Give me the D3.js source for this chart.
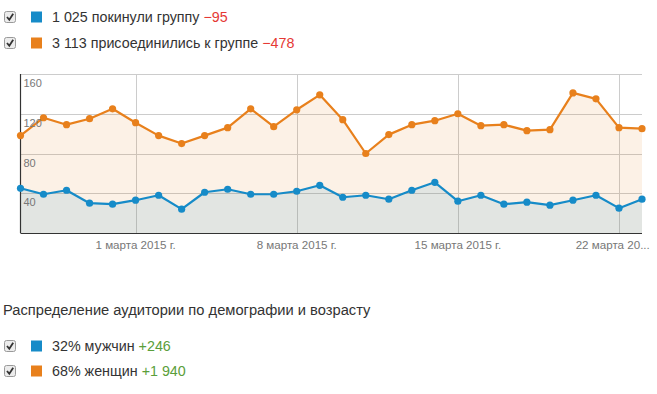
<!DOCTYPE html>
<html>
<head>
<meta charset="utf-8">
<script src="https://cdn.jsdelivr.net/npm/d3@7"></script>
<style>
  body { margin: 0; background: #fff; }
  svg { display: block; font-family: Arial, "Liberation Sans", sans-serif; }
</style>
</head>
<body>
<div id="chart"></div>
<script>
// data: daily counts from 24 Feb to 23 Mar 2015
const startDate = new Date(2015, 1, 24);
const leftValues = [45, 39, 43, 30, 29, 33, 38, 24, 41, 44, 39, 39, 42, 48,
                    36, 38, 34, 43, 51, 32, 38, 29, 31, 28, 33, 38, 25, 34];
const joinedValues = [98, 116, 109, 115, 125, 111, 98, 90, 98, 106, 125, 107, 124, 139,
                      114, 80, 99, 109, 113, 120, 108, 109, 103, 104, 141, 135, 106, 105];
const yTicks = [40, 80, 120, 160];
const xTickDates = [new Date(2015, 2, 1), new Date(2015, 2, 8), new Date(2015, 2, 15), new Date(2015, 2, 22)];

const topLegend = [
    { label: '1 025 покинули группу', delta: '\u221295', color: '#168bc8', deltaColor: '#e53935' },
    { label: '3 113 присоединились к группе', delta: '\u2212478', color: '#e8801c', deltaColor: '#e53935' }
];
const demoTitle = 'Распределение аудитории по демографии и возрасту';
const demoLegend = [
    { label: '32% мужчин', delta: '+246', color: '#168bc8', deltaColor: '#5a9e3a' },
    { label: '68% женщин', delta: '+1 940', color: '#e8801c', deltaColor: '#5a9e3a' }
];

const W = 657, H = 394;
const margin = { top: 74, left: 20.5, right: 15, bottom: 161 };

const dates = leftValues.map((v, i) => d3.timeDay.offset(startDate, i));
const series = [
    { values: joinedValues, color: '#e8801c' },
    { values: leftValues, color: '#168bc8' }
];

const svg = d3.select('#chart')
    .append('svg')
    .attr('width', W)
    .attr('height', H);

const xScale = d3.scaleTime()
    .domain([dates[0], dates[dates.length - 1]])
    .range([margin.left, W - margin.right]);
const yScale = d3.scaleLinear()
    .domain([0, 160])
    .range([H - margin.bottom, margin.top]);

/** gridlines */
const grid = svg.append('g');
grid.selectAll('line.h')
    .data(yTicks)
    .enter()
    .append('line')
    .attr('x1', xScale.range()[0])
    .attr('x2', xScale.range()[1])
    .attr('y1', d => Math.round(yScale(d)) + 0.5)
    .attr('y2', d => Math.round(yScale(d)) + 0.5)
    .style('stroke', '#cccccc');
grid.selectAll('line.v')
    .data(xTickDates)
    .enter()
    .append('line')
    .attr('x1', d => Math.round(xScale(d)) + 0.5)
    .attr('x2', d => Math.round(xScale(d)) + 0.5)
    .attr('y1', yScale(160))
    .attr('y2', yScale(0))
    .style('stroke', '#cccccc');

/** areas + lines */
const area = d3.area()
    .x((d, i) => xScale(dates[i]))
    .y0(yScale(0))
    .y1(d => yScale(d));
const line = d3.line()
    .x((d, i) => xScale(dates[i]))
    .y(d => yScale(d));

series.forEach(s => {
    svg.append('path')
        .attr('d', area(s.values))
        .style('fill', s.color)
        .style('fill-opacity', 0.11);
});

/** axes */
svg.append('line')
    .attr('x1', margin.left).attr('x2', margin.left)
    .attr('y1', yScale(160)).attr('y2', yScale(0))
    .style('stroke', '#333').style('stroke-width', 1.2);
svg.append('line')
    .attr('x1', margin.left).attr('x2', xScale.range()[1])
    .attr('y1', yScale(0) + 0.5).attr('y2', yScale(0) + 0.5)
    .style('stroke', '#333').style('stroke-width', 1.2);

series.forEach(s => {
    svg.append('path')
        .attr('d', line(s.values))
        .style('fill', 'none')
        .style('stroke', s.color)
        .style('stroke-width', 2.2)
        .style('stroke-linejoin', 'round');
    svg.append('g')
        .selectAll('circle')
        .data(s.values)
        .enter()
        .append('circle')
        .attr('cx', (d, i) => xScale(dates[i]))
        .attr('cy', d => yScale(d))
        .attr('r', 3.6)
        .style('fill', s.color);
});

/** y labels sit inside the plot, under their gridline */
svg.append('g')
    .selectAll('text')
    .data(yTicks)
    .enter()
    .append('text')
    .attr('x', margin.left + 3)
    .attr('y', d => yScale(d) + 13)
    .style('font-size', '11px')
    .style('fill', '#777')
    .text(d => d);

/** x labels, the last one gets cut like the original */
const fmtDate = d => `${d.getDate()} ${['января', 'февраля', 'марта'][d.getMonth()]} ${d.getFullYear()} г.`;
svg.append('g')
    .selectAll('text')
    .data(xTickDates)
    .enter()
    .append('text')
    .attr('y', 249)
    .style('font-size', '11.6px')
    .style('fill', '#777')
    .text(fmtDate)
    .each(function (d) {
        const el = d3.select(this);
        const cx = xScale(d);
        const w = this.getComputedTextLength();
        let x0 = cx - w / 2;
        el.attr('x', x0);
        const maxW = W - 2 - x0;
        if (w > maxW) {
            let txt = fmtDate(d);
            while (txt.length > 1) {
                txt = txt.slice(0, -1);
                el.text(txt.trimEnd() + '...');
                if (this.getComputedTextLength() <= maxW) break;
            }
        }
    });

/** legends */
function drawCheckbox(g, x, y) {
    g.append('rect')
        .attr('x', x + 0.5).attr('y', y - 5.5)
        .attr('width', 11).attr('height', 11)
        .attr('rx', 2)
        .style('fill', '#ececec')
        .style('stroke', '#9a9a9a');
    g.append('path')
        .attr('d', `M${x + 3},${y} L${x + 5.3},${y + 2.8} L${x + 9.2},${y - 3.2}`)
        .style('fill', 'none')
        .style('stroke', '#333')
        .style('stroke-width', 1.8);
}

function drawLegend(items, ys) {
    items.forEach((item, i) => {
        const g = svg.append('g');
        const y = ys[i];
        drawCheckbox(g, 4, y);
        g.append('rect')
            .attr('x', 31).attr('y', y - 5.5)
            .attr('width', 11).attr('height', 11)
            .style('fill', item.color);
        const t = g.append('text')
            .attr('x', 52)
            .attr('y', y + 5)
            .style('font-size', '14.3px')
            .style('fill', '#333');
        t.append('tspan').text(item.label + ' ');
        t.append('tspan').style('fill', item.deltaColor).text(item.delta);
    });
}

drawLegend(topLegend, [17, 43]);

svg.append('text')
    .attr('x', 3)
    .attr('y', 315)
    .style('font-size', '14.7px')
    .style('fill', '#333')
    .text(demoTitle);

drawLegend(demoLegend, [346, 371]);
</script>
</body>
</html>
